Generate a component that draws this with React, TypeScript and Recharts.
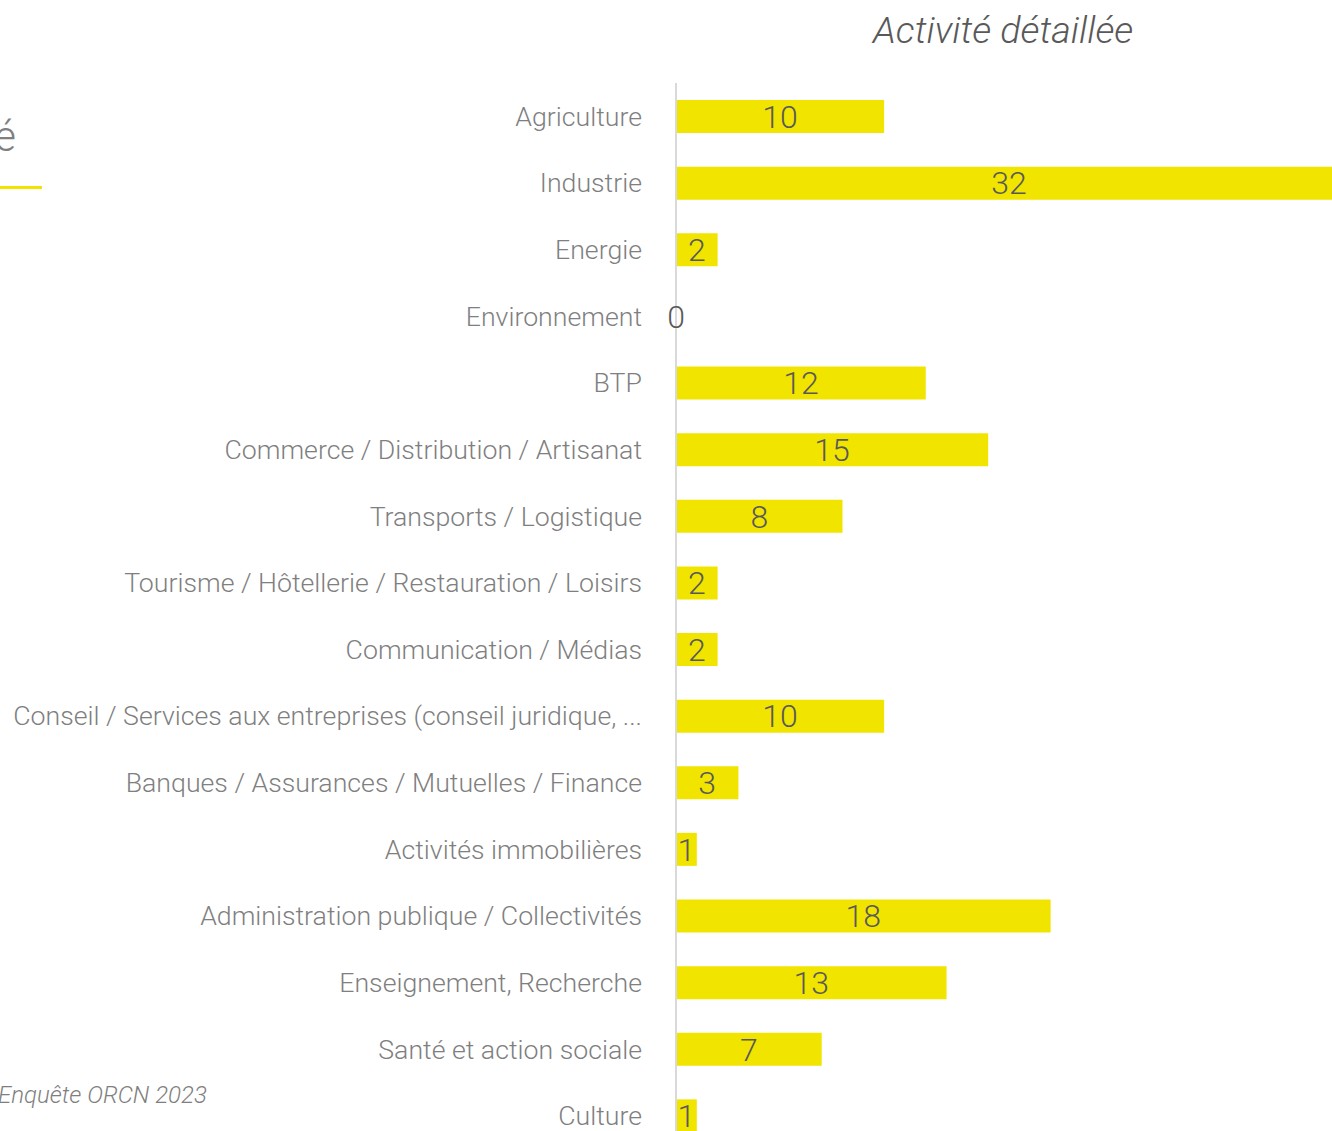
import React from 'react';
import { BarChart, Bar, XAxis, YAxis, LabelList } from 'recharts';

const categories = [
  'Agriculture',
  'Industrie',
  'Energie',
  'Environnement',
  'BTP',
  'Commerce / Distribution / Artisanat',
  'Transports / Logistique',
  'Tourisme / Hôtellerie / Restauration / Loisirs',
  'Communication / Médias',
  'Conseil / Services aux entreprises (conseil juridique, ...',
  'Banques / Assurances / Mutuelles / Finance',
  'Activités immobilières',
  'Administration publique / Collectivités',
  'Enseignement, Recherche',
  'Santé et action sociale',
  'Culture',
];

const counts = [10, 32, 2, 0, 12, 15, 8, 2, 2, 10, 3, 1, 18, 13, 7, 1];

const data = categories.map((name, i) => ({ name, value: counts[i] }));

const FONT = 'Roboto, "Noto Sans", sans-serif';

export default function App() {
  return (
    <div
      style={{
        position: 'fixed',
        left: 0,
        top: 0,
        width: 1332,
        height: 1131,
        overflow: 'hidden',
        background: '#fff',
        fontFamily: FONT,
      }}
    >
      {/* bout du titre du graphique voisin */}
      <div
        style={{
          position: 'absolute',
          right: 1316,
          top: 112,
          fontSize: 42,
          fontWeight: 300,
          color: '#7f7f7f',
          whiteSpace: 'nowrap',
        }}
      >
        Activité
      </div>
      <div style={{ position: 'absolute', left: 0, top: 186, width: 42, height: 3, background: '#f1e500' }} />

      <div
        style={{
          position: 'absolute',
          left: 873,
          top: 8,
          fontSize: 37.7,
          fontStyle: 'italic',
          fontWeight: 300,
          color: '#595959',
          whiteSpace: 'nowrap',
        }}
      >
        Activité détaillée
      </div>

      <div
        style={{
          position: 'absolute',
          left: -2,
          top: 1081,
          fontSize: 24,
          fontStyle: 'italic',
          fontWeight: 300,
          color: '#7f7f7f',
          whiteSpace: 'nowrap',
        }}
      >
        Enquête ORCN 2023
      </div>

      <div style={{ position: 'absolute', left: 0, top: 0 }}>
        <BarChart
          width={1342}
          height={1149}
          data={data}
          layout="vertical"
          margin={{ top: 83, right: 0, bottom: 0, left: 0 }}
          barSize={33}
        >
          <XAxis type="number" domain={[0, 32]} hide />
          <YAxis
            type="category"
            dataKey="name"
            width={676}
            axisLine={{ stroke: '#d9d9d9', strokeWidth: 2 }}
            tickLine={false}
            tickSize={0}
            tickMargin={34}
            interval={0}
            tick={{ fill: '#7f7f7f', fontSize: 26.7, fontWeight: 300, fontFamily: FONT }}
          />
          <Bar dataKey="value" fill="#f1e500" minPointSize={0.01} isAnimationActive={false}>
            <LabelList
              dataKey="value"
              position="center"
              fill="#595959"
              style={{ fontSize: 32, fontWeight: 300, fontFamily: FONT }}
            />
          </Bar>
        </BarChart>
      </div>
    </div>
  );
}
